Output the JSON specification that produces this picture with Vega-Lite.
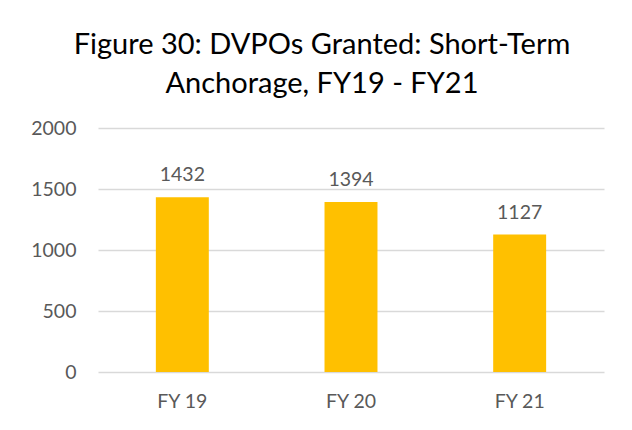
{
  "$schema": "https://vega.github.io/schema/vega-lite/v6.json",
  "width": 506,
  "height": 244,
  "autosize": "none",
  "padding": {"left": 98, "top": 128, "right": 28, "bottom": 58},
  "background": "white",
  "title": {
    "text": ["Figure 30: DVPOs Granted: Short-Term", "Anchorage, FY19 - FY21"],
    "fontSize": 29,
    "font": "Lato",
    "fontWeight": "normal",
    "color": "#000000",
    "anchor": "middle",
    "lineHeight": 39,
    "offset": 19,
    "dx": -29
  },
  "data": {
    "values": [
      {"year": "FY 19", "count": 1432},
      {"year": "FY 20", "count": 1394},
      {"year": "FY 21", "count": 1127}
    ]
  },
  "encoding": {
    "x": {
      "field": "year",
      "type": "nominal",
      "sort": null,
      "scale": {"paddingInner": 0.686, "paddingOuter": 0.343},
      "axis": {
        "title": null,
        "labelAngle": 0,
        "ticks": false,
        "domain": false,
        "labelPadding": 20,
        "labelFontSize": 19.5,
        "labelFont": "Lato",
        "labelColor": "#595959"
      }
    },
    "y": {
      "field": "count",
      "type": "quantitative",
      "scale": {"domain": [0, 2000]},
      "axis": {
        "title": null,
        "values": [0, 500, 1000, 1500, 2000],
        "format": "d",
        "ticks": false,
        "domain": false,
        "labelPadding": 22,
        "labelFontSize": 19.5,
        "labelFont": "Lato",
        "labelColor": "#595959",
        "gridColor": "#d9d9d9",
        "gridWidth": 1.5
      }
    }
  },
  "layer": [
    {"mark": {"type": "bar", "color": "#FFC000"}},
    {
      "mark": {"type": "text", "baseline": "bottom", "dy": -12, "fontSize": 19.5, "font": "Lato", "color": "#595959"},
      "encoding": {"text": {"field": "count", "type": "quantitative"}}
    }
  ],
  "config": {"view": {"stroke": null}}
}
